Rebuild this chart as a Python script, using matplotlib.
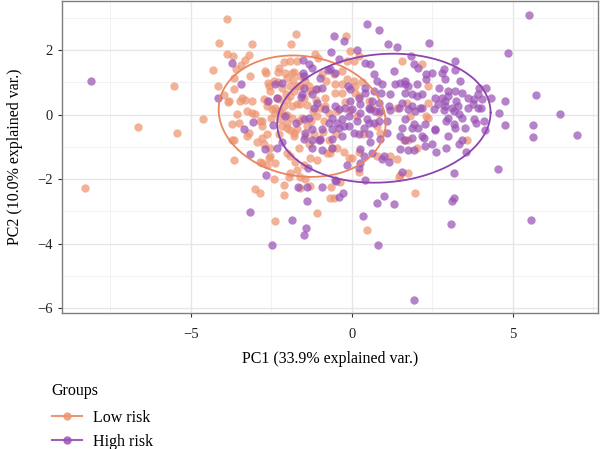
import numpy as np
import matplotlib
matplotlib.use("Agg")
import matplotlib.pyplot as plt
from matplotlib.lines import Line2D

# PCA scores
low_pts = [
    (-3.87, 2.96), (-4.12, 2.22), (-3.87, 1.88), (-3.68, 1.82), (-3.59, 1.42), (-4.3, 1.39),
    (-3.65, 1.14), (-5.51, 0.9), (-4.15, 0.9), (-3.65, 0.8), (-3.96, 0.62), (-3.84, 0.4),
    (-3.47, 0.43), (-4.61, -0.12), (-6.63, -0.37), (-5.42, -0.56), (-3.72, -0.28), (-3.5, -0.25),
    (-3.72, -0.8), (-3.65, -0.77), (-3.65, -1.39), (-8.27, -2.28),
    (-1.73, 2.5), (-3.1, 2.19), (-1.89, 2.19), (-3.19, 1.85), (-3.31, 1.7), (-3.44, 1.54),
    (-3.16, 1.2), (-2.66, 1.3), (-2.29, 1.33), (-2.07, 1.3), (-1.8, 1.33), (-2.1, 1.64),
    (-1.92, 1.67), (-1.7, 1.67), (-1.83, 1.08), (-1.7, 0.9), (-2.6, 0.99), (-2.54, 0.74),
    (-3.81, 0.43), (-3.41, 0.52), (-3.31, 0.46), (-3.1, 0.43), (-2.72, 0.49), (-2.26, 0.49),
    (-1.92, 0.59), (-1.8, 0.74), (-2.1, 0.28), (-1.86, 0.28), (-1.61, 0.34),
    (-0.19, 2.44), (-0.06, 1.98), (0.22, 1.82), (-1.15, 1.88), (-1.05, 1.76), (-0.15, 1.67),
    (0.06, 1.67), (1.55, 1.67), (-0.93, 1.27), (-0.56, 1.27), (-0.31, 1.36), (-0.15, 1.11),
    (0.06, 1.05), (0.31, 1.02), (0.09, 0.9), (-0.8, 1.05), (-0.53, 0.96), (-0.31, 0.96),
    (-1.33, 0.9), (-1.46, 1.05), (-0.53, 0.68), (-0.31, 0.68), (0.09, 0.68), (0.22, 0.59),
    (-0.84, 0.52), (-0.84, 0.28), (0.53, 0.43), (0.62, 0.22),
    (2.17, 1.57), (2.38, 0.9), (1.7, 0.37), (2.38, 0.37),
    (3.59, -0.77), (2.38, -0.09), (2.01, -1.02), (1.76, -0.8),
    (0.84, 0.06), (1.39, 0.22), (1.8, -0.03), (2.32, -0.03), (0.15, -0.03), (0.77, -0.34),
    (0.87, -0.56), (1.61, -0.8), (0.0, -1.33), (0.22, -1.17), (0.77, -1.27), (1.18, -1.27),
    (1.39, -1.36), (0.22, -1.79), (1.49, -1.88), (1.76, -1.82), (1.95, -2.44),
    (-2.79, -1.51), (-2.63, -1.57), (-2.54, -1.27), (-2.41, -1.98), (-2.01, -1.2), (-1.76, -1.48),
    (-1.49, -1.57), (-1.92, -1.82), (-1.61, -1.94), (-1.46, -1.98), (-2.1, -2.19), (-3.0, -2.31),
    (-2.85, -2.44), (-2.1, -2.5), (-1.61, -2.28), (-1.3, -2.22), (-1.08, -3.06), (-0.68, -2.59),
    (-0.55, -2.59), (-0.37, -2.1), (-2.38, -3.3), (0.46, -3.58), (1.46, -1.94),
    (-3.25, 0.12), (-3.1, 0.06), (-3.0, 0.03), (-2.79, -0.19), (-2.38, 0.06), (-2.26, 0.12),
    (-2.23, -0.12), (-2.17, -0.34), (-2.26, -0.59), (-2.01, -0.4), (-1.92, -0.49), (-1.8, -0.65),
    (-1.7, -0.43), (-2.63, 0.28), (-2.48, 0.19), (-3.25, -0.65), (-3.19, -0.56), (-2.72, -0.9),
    (-2.57, -1.33), (-2.38, -1.51), (-2.85, -1.48), (-1.7, -1.73), (-1.95, -1.94), (-1.3, -1.33),
    (-1.08, -1.42), (-0.77, -1.2), (-0.68, -1.2), (-0.46, -1.02), (-0.25, -1.17), (-0.09, -1.33),
    (-0.65, -2.25),
    (-3.56, 0.03), (-2.85, -0.19), (-2.79, -0.71), (-2.63, -0.59), (-2.54, -1.02), (-2.94, -0.86),
    (-2.79, -0.34),
    (-2.69, 1.36), (-2.26, 1.45), (-1.86, 1.3), (-2.01, 1.14), (-2.41, 1.05), (-2.57, 0.9),
    (-2.17, 0.83), (-1.92, 0.9), (-2.04, 0.65), (-2.32, 0.52), (-2.63, 0.43), (-2.38, 0.22),
    (-2.17, 0.06), (-1.7, 0.34), (-1.49, 0.52), (-1.3, 0.74), (-1.08, 0.8), (-1.86, -0.09),
    (-1.64, -0.19), (-2.01, -0.25), (-1.8, -0.56), (-1.39, -0.34), (-1.08, -0.03), (-0.99, 0.22),
    (-1.18, -0.59), (-0.99, -0.8), (-0.71, -0.8), (-0.62, -1.02), (-1.33, -0.9), (-1.64, -1.02),
    (-1.92, -1.27),
    (-2.3, 1.0), (-1.6, 1.2), (-1.4, 0.3), (-1.2, 0.1), (-1.55, -0.1), (-1.25, -0.2),
    (-0.85, -0.2), (-0.7, 0.05), (-0.5, -0.6), (-0.9, -0.55), (-1.1, 0.45), (-2.0, 0.0),
    (-2.5, -0.1), (-1.45, -0.65), (-0.2, 0.4), (-0.45, 0.1), (-0.05, 0.15), (0.35, -0.6),
    (-2.0, 0.45), (-1.6, 0.9),
]

high_pts = [
    (-3.72, 1.6), (-8.08, 1.05), (-3.44, 0.96), (-4.15, 0.52),
    (-1.52, 1.7), (-1.52, 1.3), (-2.38, 0.96), (-2.17, 0.99), (-2.6, 0.43), (-2.32, 0.52),
    (-1.58, 0.56),
    (0.46, 2.81), (0.84, 2.62), (-0.56, 2.44), (-0.25, 2.28), (1.11, 2.19), (1.42, 2.1),
    (-0.65, 1.94), (0.15, 2.0), (-0.4, 1.73), (0.4, 1.6), (0.56, 1.57), (1.3, 1.36),
    (0.68, 1.27), (-0.74, 1.39), (-1.33, 1.57), (0.77, 1.05), (0.93, 0.96), (-0.12, 0.9),
    (-0.06, 0.8), (1.33, 0.96), (1.49, 0.99), (1.64, 0.96), (-1.11, 0.8), (-1.24, 0.65),
    (-1.55, 0.65), (0.4, 0.68), (0.68, 0.74), (0.9, 0.68), (1.18, 0.65), (-1.08, 0.37),
    (-0.53, 0.28), (-0.22, 0.22), (0.25, 0.34), (0.84, 0.37), (1.15, 0.28), (1.46, 0.22),
    (2.41, 2.22), (1.83, 1.82), (3.22, 1.67), (1.92, 1.57), (2.07, 1.45), (2.29, 1.27),
    (2.5, 1.3), (2.85, 1.42), (2.79, 1.3), (3.19, 1.39), (2.32, 1.11), (2.88, 1.11),
    (3.37, 1.05), (1.64, 1.05), (1.76, 0.9), (2.04, 0.96), (2.72, 0.83), (3.0, 0.74),
    (3.19, 0.74), (3.41, 0.68), (3.96, 0.83), (4.18, 0.83), (1.64, 0.68), (1.86, 0.65),
    (2.01, 0.59), (2.17, 0.65), (2.57, 0.52), (2.79, 0.52), (3.0, 0.59), (3.62, 0.52),
    (3.81, 0.49), (4.03, 0.49), (4.33, 0.52), (1.55, 0.37), (1.86, 0.28), (2.11, 0.22),
    (2.69, 0.34), (2.88, 0.28), (3.1, 0.22), (3.31, 0.28), (3.62, 0.22), (3.93, 0.22),
    (5.51, 3.09), (4.86, 1.91), (5.73, 0.62), (6.47, 0.03), (4.77, 0.43), (4.58, 0.06),
    (4.77, -0.31), (5.63, -0.31), (5.63, -0.68), (7.0, -0.62), (3.93, 0.65), (4.0, 0.22),
    (4.09, -0.19), (4.15, -0.46), (3.75, 0.34), (3.81, -0.12), (3.5, -0.4), (3.41, -0.8),
    (3.56, -1.17), (3.19, -0.4), (3.0, -0.65), (2.94, -1.02), (2.48, -0.9), (2.57, -0.43),
    (3.16, 0.12), (3.34, 0.03), (3.41, -0.09), (3.0, -0.09), (2.88, 0.43), (3.25, 0.43),
    (2.17, 0.22), (1.95, 0.12), (1.76, 0.19), (2.07, -0.4), (1.86, -0.4), (1.55, -0.4),
    (2.26, -0.28), (2.17, -0.65), (1.86, -0.71), (1.64, -0.8), (1.76, -1.11), (2.26, -0.96),
    (0.0, 0.19), (0.25, 0.06), (0.56, 0.19), (0.87, 0.12), (1.18, 0.15), (2.54, 0.19),
    (2.85, 0.15), (0.15, -0.19), (0.46, -0.12), (0.68, -0.25), (1.08, -0.19), (1.64, -0.12),
    (1.92, -0.28), (2.57, -0.49), (2.94, -0.19), (3.16, -0.28), (3.87, -0.25), (0.06, -0.56),
    (0.53, -0.59), (0.56, -0.86), (0.87, -0.74), (1.08, -0.56), (1.49, -0.65), (2.23, -0.71),
    (3.34, -0.9), (1.49, -1.05), (1.92, -1.11), (2.63, -1.17), (0.25, -1.05), (0.37, -1.27),
    (0.62, -1.2), (0.99, -1.27), (1.15, -1.48), (0.93, -1.36), (-0.15, -1.57), (0.25, -1.51),
    (1.55, -1.79), (0.4, -2.04), (3.16, -1.82), (4.55, -1.67), (0.99, -2.53), (0.77, -2.75),
    (1.3, -2.78), (3.16, -2.59), (3.1, -2.69),
    (3.07, -3.4), (5.57, -3.27), (1.92, -5.74),
    (-3.16, -1.23), (-2.66, -1.88), (-1.36, -1.64), (-1.67, -2.25), (-1.39, -2.69), (-0.93, -2.25),
    (-0.5, -2.07), (-0.4, -2.56), (-0.28, -2.44), (-3.16, -3.02), (-1.86, -3.27), (-1.42, -3.52),
    (-1.49, -3.73), (-2.48, -4.04), (0.34, -3.15), (0.8, -4.04), (0.22, -1.64),
    (-3.07, -0.22), (-3.34, -0.43), (-2.45, -0.31), (-2.07, -0.03), (-1.73, -0.25), (-1.49, -0.12),
    (-1.33, -0.09), (-1.18, 0.22), (-0.84, 0.19), (-0.62, -0.09), (-0.31, -0.12), (-2.69, -1.05),
    (-2.32, -1.02), (-2.17, -0.86), (-1.49, -0.74), (-1.24, -0.8), (-1.02, -0.8), (-1.46, -0.56),
    (-1.24, -0.43), (-0.93, -0.43), (-0.62, -0.43), (-0.71, -0.25), (-0.46, -0.25), (-0.25, -0.34),
    (-1.39, -2.25), (-0.53, -2.04),
    (-1.49, 1.2), (-1.24, 1.45), (-0.99, 1.14), (-0.68, 1.42), (-0.53, 1.3), (-1.49, 0.83),
    (-0.93, 0.83), (-0.4, 0.19), (-0.09, -0.03), (-0.06, 0.43), (0.22, 0.52), (0.4, 0.83),
    (0.62, 0.43), (0.53, 0.22), (0.71, 0.12), (0.84, -0.19), (0.53, -0.25), (0.37, -0.4),
    (0.22, -0.59), (-0.09, -0.34), (-0.4, -0.4), (-0.62, -0.74), (-0.31, -0.65), (-0.99, -0.74),
    (-1.24, -1.02), (-0.93, -1.11), (-0.62, -1.02),
]

groups = ["Low risk", "High risk"]
point_cols = ["#EE9470", "#9A52B5"]
line_cols = ["#E9865E", "#8E44AD"]

plt.rcParams["font.family"] = ["Liberation Serif", "DejaVu Serif"]

fig = plt.figure(figsize=(6.0, 4.49), dpi=100)
ax = fig.add_axes([0.103, 0.303, 0.894, 0.695])

# 68% normal ellipse like ggbiplot
ed = np.sqrt(-2 * np.log(1 - 0.68))
theta = np.linspace(0, 2 * np.pi, 200)
circle = np.column_stack([np.cos(theta), np.sin(theta)])

for pts, pc in zip([low_pts, high_pts], point_cols):
    arr = np.array(pts)
    ax.scatter(arr[:, 0], arr[:, 1], s=36, color=pc, alpha=0.72, linewidths=0, zorder=3)

for pts, lc in zip([low_pts, high_pts], line_cols):
    arr = np.array(pts)
    mu = arr.mean(axis=0)
    L = np.linalg.cholesky(np.cov(arr.T))
    ell = circle @ L.T * ed + mu
    ax.plot(ell[:, 0], ell[:, 1], color=lc, lw=1.3, zorder=4)

ax.set_xlim(-9.0, 7.65)
ax.set_ylim(-6.15, 3.53)
ax.set_xticks([-5, 0, 5])
ax.set_yticks([2, 0, -2, -4, -6])
ax.set_xticklabels(["\u22125", "0", "5"])
ax.set_yticklabels(["2", "0", "\u22122", "\u22124", "\u22126"])
ax.set_xticks([-7.5, -2.5, 2.5, 7.5], minor=True)
ax.set_yticks([3, 1, -1, -3, -5], minor=True)
ax.grid(True, which="major", color="#E6E6E6", lw=1.0, zorder=0)
ax.grid(True, which="minor", color="#F0F0F0", lw=0.6, zorder=0)
ax.tick_params(which="major", length=3, width=0.8, color="#333333", labelsize=10.5, labelcolor="#222222")
ax.tick_params(axis="x", which="major", pad=8)
ax.tick_params(which="minor", length=0)
for sp in ax.spines.values():
    sp.set_color("#7F7F7F")
    sp.set_linewidth(1.0)
ax.set_axisbelow(True)

ax.set_xlabel("PC1 (33.9% explained var.)", fontsize=11.5, labelpad=7)
ax.set_ylabel("PC2 (10.0% explained var.)", fontsize=11.5, labelpad=10)

handles = [Line2D([0], [0], color=lc, lw=1.5, marker="o", markersize=6,
                  markerfacecolor=pc, markeredgewidth=0, alpha=0.85)
           for pc, lc in zip(point_cols, line_cols)]
leg = fig.legend(handles, groups, title="Groups", loc="upper left",
                 bbox_to_anchor=(0.062, 0.18), frameon=False, fontsize=11.5,
                 title_fontsize=11.5, handlelength=1.9, handletextpad=0.7,
                 labelspacing=0.5)
leg._legend_box.align = "left"
leg._legend_box.sep = 8

fig.savefig("out.png", dpi=100)
